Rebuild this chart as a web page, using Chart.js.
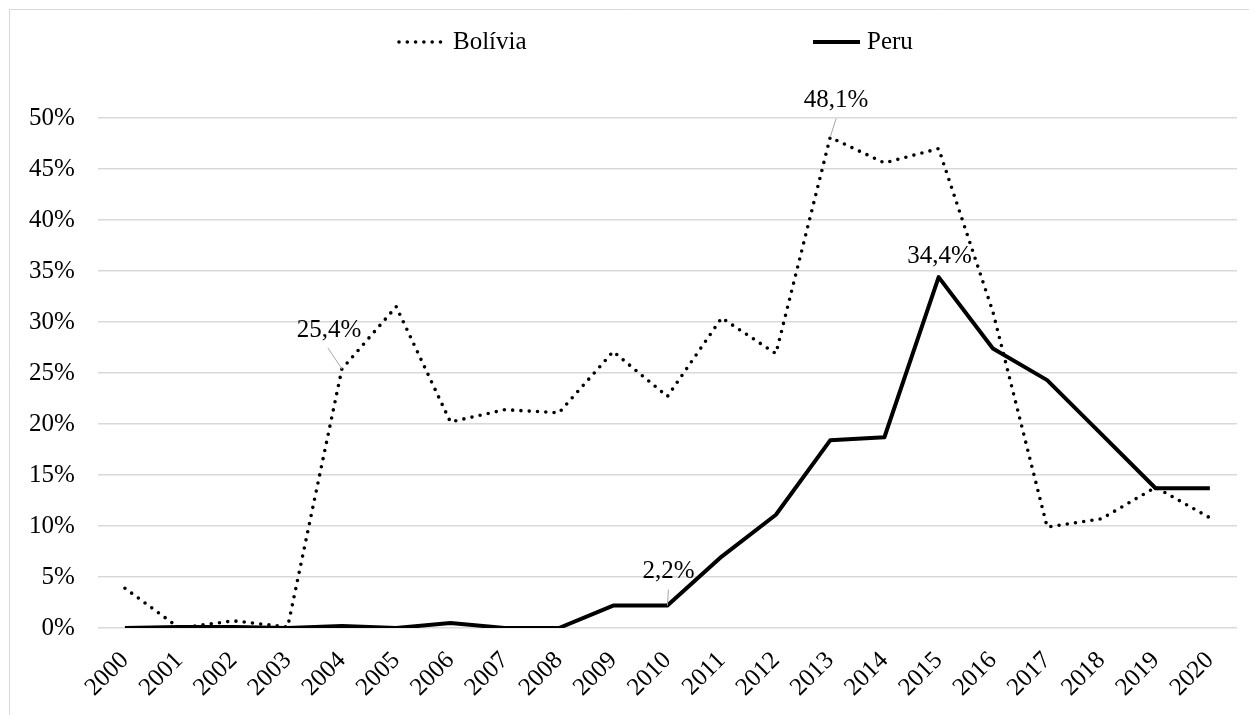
<!DOCTYPE html>
<html>
<head>
<meta charset="utf-8">
<script src="https://cdn.jsdelivr.net/npm/chart.js@4.4.1/dist/chart.umd.min.js"></script>
<style>
  html, body { margin: 0; padding: 0; background: #fff; }
  #wrap { width: 1249px; height: 715px; }
</style>
</head>
<body>
<div id="wrap"><canvas id="myChart"></canvas></div>
<script>
// values (%)
const years = ['2000', '2001', '2002', '2003', '2004', '2005', '2006', '2007', '2008', '2009', '2010',
  '2011', '2012', '2013', '2014', '2015', '2016', '2017', '2018', '2019', '2020'];
const bolivia = [3.9, 0, 0.7, 0.1, 25.4, 31.5, 20.2, 21.4, 21.1, 27.1, 22.7,
  30.4, 26.9, 48.1, 45.6, 47.0, 31.0, 9.9, 10.7, 13.8, 10.8];
const peru = [0, 0.1, 0.1, 0, 0.2, 0, 0.5, 0, 0, 2.2, 2.2,
  7.0, 11.1, 18.4, 18.7, 34.4, 27.4, 24.3, 19.0, 13.7, 13.7];
const yTicks = [0, 5, 10, 15, 20, 25, 30, 35, 40, 45, 50];

const FONT = "'Liberation Serif', 'Times New Roman', serif";
const FSIZE = 25;
const ctx = document.getElementById('myChart');

// labelled points: dataset, index, label offset, leader start offset
const callouts = [
  { ds: 0, i: 4, dx: -13, dy: -38, lx: -14, ly: -21 },
  { ds: 0, i: 13, dx: 6, dy: -37, lx: 6, ly: -19 },
  { ds: 1, i: 15, dx: 1, dy: -21 },
  { ds: 1, i: 10, dx: 1, dy: -34, lx: 1, ly: -16 }
];

const fmt = v => v.toFixed(1).replace('.', ',') + '%';

const decor = {
  id: 'decor',
  beforeDraw(chart) {
    const c = chart.ctx;
    c.save();
    c.strokeStyle = '#d9d9d9';
    c.lineWidth = 1;
    c.beginPath();
    c.moveTo(9.5, chart.height);
    c.lineTo(9.5, 9.5);
    c.lineTo(chart.width, 9.5);
    c.stroke();
    c.restore();
  },
  afterDatasetsDraw(chart) {
    const c = chart.ctx;
    c.save();
    c.font = FSIZE + 'px ' + FONT;
    c.textAlign = 'center';
    c.textBaseline = 'middle';
    callouts.forEach(o => {
      const pt = chart.getDatasetMeta(o.ds).data[o.i];
      const val = chart.data.datasets[o.ds].data[o.i];
      if (o.lx !== undefined) {
        c.strokeStyle = '#a6a6a6';
        c.lineWidth = 1;
        c.beginPath();
        c.moveTo(pt.x + o.lx, pt.y + o.ly);
        c.lineTo(pt.x, pt.y);
        c.stroke();
      }
      c.fillStyle = '#000';
      c.fillText(fmt(val), pt.x + o.dx, pt.y + o.dy);
    });
    c.restore();
  },
  afterDraw(chart) {
    // legend
    const c = chart.ctx;
    const items = [{ ds: 0, x: 399 }, { ds: 1, x: 813 }];
    const y = 42;
    c.save();
    items.forEach(it => {
      const d = chart.data.datasets[it.ds];
      c.strokeStyle = d.borderColor;
      c.lineWidth = d.borderWidth;
      c.lineCap = d.borderCapStyle || 'butt';
      c.setLineDash(d.borderDash || []);
      c.beginPath();
      c.moveTo(it.x, y);
      c.lineTo(it.x + 47, y);
      c.stroke();
      c.setLineDash([]);
      c.fillStyle = '#000';
      c.font = FSIZE + 'px ' + FONT;
      c.textAlign = 'left';
      c.textBaseline = 'middle';
      c.fillText(d.label, it.x + 54, y);
    });
    c.restore();
  }
};

new Chart(ctx, {
  type: 'line',
  data: {
    labels: years,
    datasets: [{
      label: 'Bolívia',
      data: bolivia,
      borderColor: '#000',
      borderWidth: 3.6,
      borderDash: [0, 8.3],
      borderCapStyle: 'round',
      pointRadius: 0,
      tension: 0,
      fill: false
    }, {
      label: 'Peru',
      data: peru,
      borderColor: '#000',
      borderWidth: 4,
      borderJoinStyle: 'round',
      pointRadius: 0,
      tension: 0,
      fill: false
    }]
  },
  options: {
    responsive: true,
    maintainAspectRatio: false,
    animation: false,
    layout: {
      padding: { top: 118, left: 6, right: 12, bottom: 0 }
    },
    plugins: {
      legend: { display: false },
      tooltip: { enabled: false }
    },
    scales: {
      x: {
        offset: true,
        grid: { display: false, drawTicks: false },
        border: { display: false },
        afterFit: s => { s.paddingLeft = 0; s.paddingRight = 0; s.height = 87; },
        ticks: {
          color: '#000',
          font: { family: FONT, size: FSIZE },
          maxRotation: 45,
          minRotation: 45,
          padding: 18,
          autoSkip: false
        }
      },
      y: {
        min: 0,
        max: 50,
        afterBuildTicks: axis => { axis.ticks = yTicks.map(v => ({ value: v })); },
        grid: { color: '#d9d9d9', lineWidth: 1.5, drawTicks: false },
        border: { display: false },
        ticks: {
          color: '#000',
          font: { family: FONT, size: FSIZE },
          padding: 23,
          callback: v => v + '%'
        }
      }
    }
  },
  plugins: [decor]
});
</script>
</body>
</html>
